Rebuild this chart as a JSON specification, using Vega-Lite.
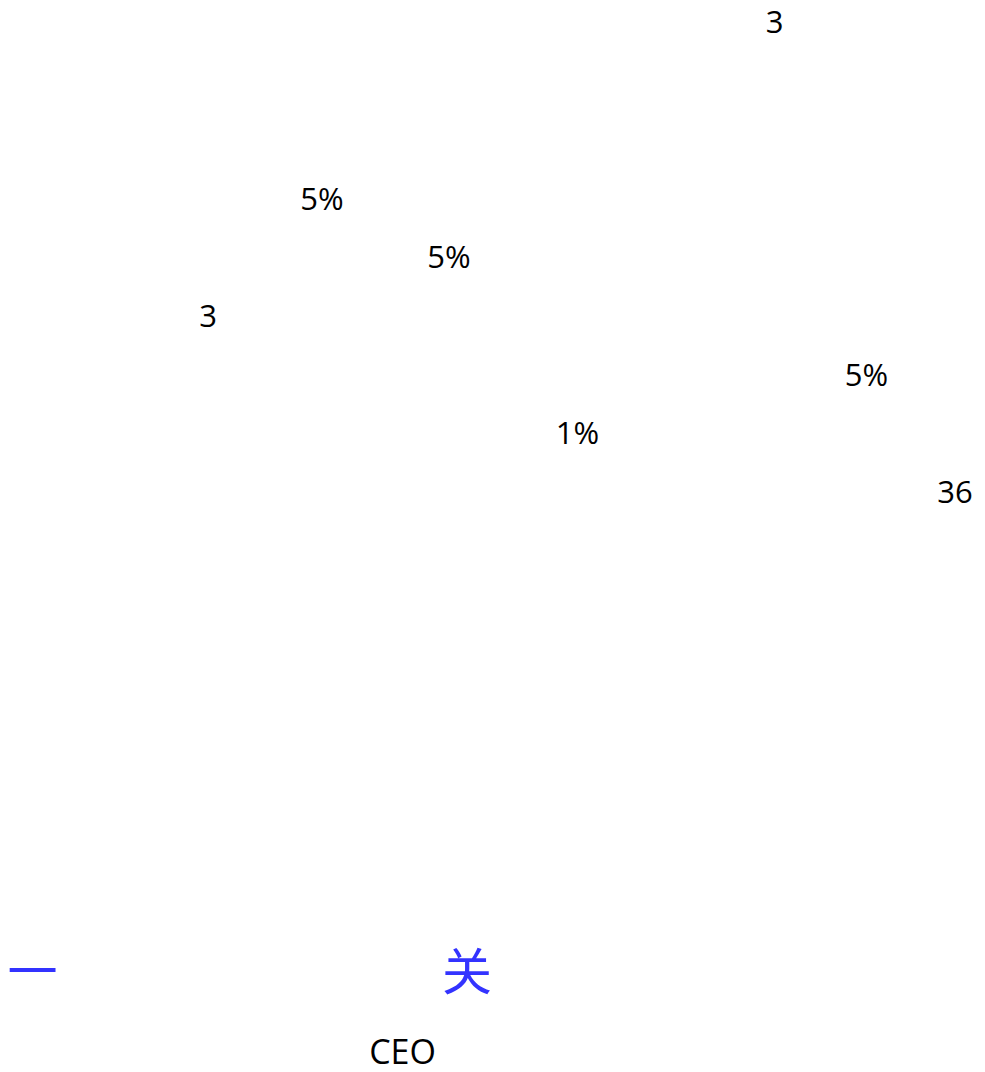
{
  "$schema": "https://vega.github.io/schema/vega-lite/v6.json",
  "width": 985,
  "height": 1072,
  "padding": 0,
  "autosize": {"type": "none"},
  "background": "white",
  "view": {"stroke": null},
  "data": {
    "values": [
      {"text": "3", "col": 774.5, "line": 0, "kind": "body"},
      {"text": "5%", "col": 322, "line": 3, "kind": "body"},
      {"text": "5%", "col": 449, "line": 4, "kind": "body"},
      {"text": "3", "col": 208, "line": 5, "kind": "body"},
      {"text": "5%", "col": 866.5, "line": 6, "kind": "body"},
      {"text": "1%", "col": 577.5, "line": 7, "kind": "body"},
      {"text": "36", "col": 955, "line": 8, "kind": "body"},
      {"text": "一", "col": 32.5, "line": 16.29, "kind": "heading"},
      {"text": "关", "col": 467, "line": 16.29, "kind": "heading"},
      {"text": "CEO", "col": 402.5, "line": 17.557, "kind": "caption"}
    ]
  },
  "encoding": {
    "x": {"field": "col", "type": "quantitative", "scale": {"domain": [0, 985], "zero": false, "nice": false}, "axis": null},
    "y": {"field": "line", "type": "quantitative", "scale": {"domain": [-0.569, 17.693], "reverse": true, "zero": false, "nice": false}, "axis": null},
    "text": {"field": "text", "type": "nominal"}
  },
  "layer": [
    {
      "transform": [{"filter": "datum.kind === 'body'"}],
      "mark": {"type": "text", "font": "Open Sans", "fontSize": 31, "color": "#000000", "align": "center", "baseline": "alphabetic"}
    },
    {
      "transform": [{"filter": "datum.kind === 'heading'"}],
      "mark": {"type": "text", "font": "Noto Sans CJK SC", "fontSize": 50, "color": "#3333ff", "align": "center", "baseline": "alphabetic"}
    },
    {
      "transform": [{"filter": "datum.kind === 'caption'"}],
      "mark": {"type": "text", "font": "Open Sans", "fontSize": 34, "color": "#000000", "align": "center", "baseline": "alphabetic"}
    }
  ]
}
